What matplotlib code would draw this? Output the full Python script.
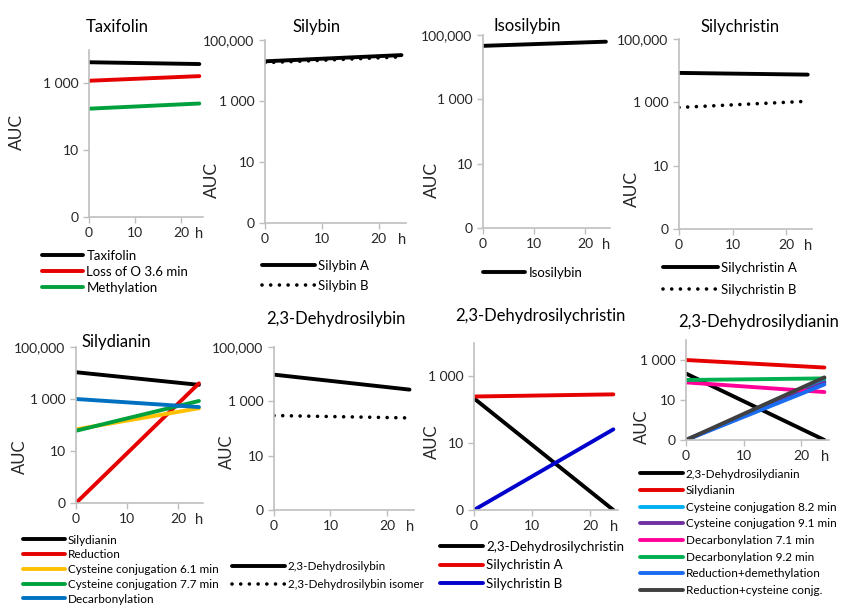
import matplotlib
matplotlib.use('Agg')
import matplotlib.pyplot as plt

plt.rcParams['font.family'] = ['Lato', 'DejaVu Sans']

# data (AUC at 0 h and 24 h, log scale, 0.1 shown as "0")
hours = [0, 24]

taxifolin_names = ['Taxifolin', 'Loss of O 3.6 min', 'Methylation']
taxifolin_vals = [[4300, 3800], [1200, 1650], [175, 250]]
taxifolin_cols = ['#000000', '#e60000', '#00a03c']

silybin_names = ['Silybin A', 'Silybin B']
silybin_vals = [[20000, 32000], [18000, 28000]]

isosilybin_names = ['Isosilybin']
isosilybin_vals = [[46000, 62000]]

silychristin_names = ['Silychristin A', 'Silychristin B']
silychristin_vals = [[8500, 7500], [690, 1080]]

silydianin_names = ['Silydianin', 'Reduction', 'Cysteine conjugation 6.1 min',
                    'Cysteine conjugation 7.7 min', 'Decarbonylation']
silydianin_vals = [[10700, 3500], [0.1, 4000], [68, 440], [60, 840], [1000, 490]]
silydianin_cols = ['#000000', '#e60000', '#ffc000', '#00a03c', '#0070c0']

dhsilybin_names = ['2,3-Dehydrosilybin', '2,3-Dehydrosilybin isomer']
dhsilybin_vals = [[9600, 2700], [300, 245]]

dhsilychristin_names = ['2,3-Dehydrosilychristin', 'Silychristin A', 'Silychristin B']
dhsilychristin_vals = [[220, 0.1], [250, 290], [0.1, 26]]
dhsilychristin_cols = ['#000000', '#e60000', '#0000cc']

dhsilydianin_names = ['2,3-Dehydrosilydianin', 'Silydianin', 'Cysteine conjugation 8.2 min',
                      'Cysteine conjugation 9.1 min', 'Decarbonylation 7.1 min',
                      'Decarbonylation 9.2 min', 'Reduction+demethylation',
                      'Reduction+cysteine conjg.']
dhsilydianin_vals = [[210, 0.1], [1000, 420], [0.1, 90], [0.1, 75], [76, 25],
                     [100, 120], [0.1, 60], [0.1, 135]]
dhsilydianin_cols = ['#000000', '#e60000', '#00b0f0', '#7030a0', '#ff0099',
                     '#00b050', '#1a6cf0', '#404040']

yticks_big = [0.1, 10, 1000, 100000]
ylabels_big = ['0', '10', '1 000', '100,000']
yticks_small = [0.1, 10, 1000]
ylabels_small = ['0', '10', '1 000']
xticks = [0, 10, 20]

W, H = 845, 606
fig = plt.figure(figsize=(W / 100, H / 100), dpi=100)


def make_axes(x0, x1, ytop, ybot):
    ax = fig.add_axes([x0 / W, 1 - ybot / H, (x1 - x0) / W, (ybot - ytop) / H])
    ax.set_yscale('log')
    for s in ['top', 'right']:
        ax.spines[s].set_visible(False)
    for s in ['left', 'bottom']:
        ax.spines[s].set_color('#bfbfbf')
        ax.spines[s].set_linewidth(1.2)
    ax.tick_params(colors='#bfbfbf', labelcolor='#262626', labelsize=10,
                   length=4, width=1)
    ax.set_xlim(0, 24.8)
    ax.set_xticks(xticks)
    ax.set_xticklabels([str(t) for t in xticks])
    ax.annotate('h', xy=(1, 0), xycoords='axes fraction', xytext=(-4, -17),
                textcoords='offset pixels', ha='center', va='center',
                fontsize=10.5, color='#262626')
    return ax


def set_y(ax, ticks, labels, top):
    ax.set_ylim(0.1, top)
    ax.set_yticks(ticks)
    ax.set_yticklabels(labels)
    ax.minorticks_off()


def title(x, y, text, size=12):
    fig.text(x / W, 1 - y / H, text, ha='center', va='center', fontsize=size,
             color='#000000')


def ylab(x, y, size=12.5):
    fig.text(x / W, 1 - y / H, 'AUC', ha='center', va='center', rotation=90,
             fontsize=size, color='#262626')


def legend(ax, x, y, fs, hl_px, spacing_px):
    fs_px = fs * 100 / 72
    h, l = ax.get_legend_handles_labels()
    ls = max((spacing_px - 0.92 * fs_px) / fs_px, 0)
    fig.legend(h, l, loc='upper left', bbox_to_anchor=(x / W, 1 - (y - 0.46 * fs_px) / H),
               frameon=False, borderpad=0, borderaxespad=0, fontsize=fs,
               handlelength=hl_px / fs_px, handletextpad=0.25, labelspacing=ls,
               labelcolor='#000000')


solid = dict(lw=2.8, solid_capstyle='round')
dotted = dict(lw=2.6, linestyle=(0, (0.01, 2.4)), dash_capstyle='round')

# Taxifolin
ax = make_axes(89, 203, 50, 217)
for name, v, c in zip(taxifolin_names, taxifolin_vals, taxifolin_cols):
    ax.plot(hours, v, color=c, label=name, **solid)
set_y(ax, yticks_small, ylabels_small, 10000)
title(117, 27, 'Taxifolin')
ylab(17, 132)
legend(ax, 42, 256, 9.5, 41, 16)

# Silybin
ax = make_axes(265, 406, 40, 223)
ax.plot(hours, silybin_vals[0], color='#000000', label=silybin_names[0], **solid)
ax.plot(hours, silybin_vals[1], color='#000000', label=silybin_names[1], **dotted)
set_y(ax, yticks_big, ylabels_big, 100000)
title(317, 27, 'Silybin')
ylab(212, 180)
legend(ax, 262, 266, 9.5, 53, 20)

# Isosilybin
ax = make_axes(483, 610, 35, 228)
ax.plot(hours, isosilybin_vals[0], color='#000000', label=isosilybin_names[0], **solid)
set_y(ax, yticks_big, ylabels_big, 100000)
title(527, 26, 'Isosilybin')
ylab(432, 180)
legend(ax, 483, 273, 9.5, 42, 20)

# Silychristin
ax = make_axes(679, 812, 39, 229)
ax.plot(hours, silychristin_vals[0], color='#000000', label=silychristin_names[0], **solid)
ax.plot(hours, silychristin_vals[1], color='#000000', label=silychristin_names[1], **dotted)
set_y(ax, yticks_big, ylabels_big, 100000)
title(740, 27, 'Silychristin')
ylab(632, 189)
legend(ax, 663, 268, 9.5, 55, 22)

# Silydianin
ax = make_axes(76, 203, 347, 503)
for name, v, c in zip(silydianin_names, silydianin_vals, silydianin_cols):
    ax.plot(hours, v, color=c, label=name, **solid)
set_y(ax, yticks_big, ylabels_big, 100000)
title(116, 342, 'Silydianin')
ylab(20, 457, 12)
legend(ax, 23, 540, 8.5, 42, 14.6)

# 2,3-Dehydrosilybin
ax = make_axes(274, 414, 347, 510)
ax.plot(hours, dhsilybin_vals[0], color='#000000', label=dhsilybin_names[0], **solid)
ax.plot(hours, dhsilybin_vals[1], color='#000000', label=dhsilybin_names[1], **dotted)
set_y(ax, yticks_big, ylabels_big, 100000)
title(336, 319, '2,3-Dehydrosilybin')
ylab(227, 452, 12)
legend(ax, 232, 566, 8.4, 53, 18.3)

# 2,3-Dehydrosilychristin
ax = make_axes(474, 618, 343, 510)
for name, v, c in zip(dhsilychristin_names, dhsilychristin_vals, dhsilychristin_cols):
    ax.plot(hours, v, color=c, label=name, **solid)
set_y(ax, yticks_small, ylabels_small, 10000)
title(540, 316, '2,3-Dehydrosilychristin')
ylab(432, 442, 12)
legend(ax, 440, 547, 9.6, 43, 18.7)

# 2,3-Dehydrosilydianin
ax = make_axes(686, 829, 340, 440)
for name, v, c in zip(dhsilydianin_names, dhsilydianin_vals, dhsilydianin_cols):
    ax.plot(hours, v, color=c, label=name, **solid)
set_y(ax, yticks_small, ylabels_small, 10000)
title(759, 322, '2,3-Dehydrosilydianin')
ylab(642, 427, 12)
legend(ax, 640, 474, 8.5, 43, 16.5)

fig.savefig('out.png', dpi=100)
